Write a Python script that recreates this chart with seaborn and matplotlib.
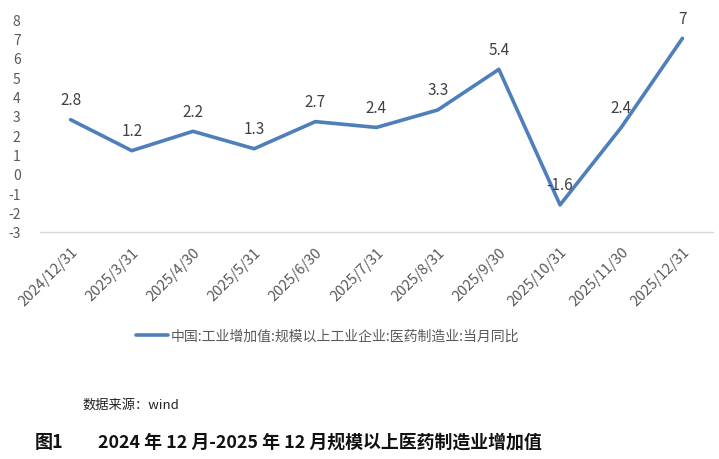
import numpy as np
import pandas as pd
import matplotlib
matplotlib.use('Agg')
import matplotlib.pyplot as plt
import seaborn as sns

dates = ['2024/12/31', '2025/3/31', '2025/4/30', '2025/5/31', '2025/6/30', '2025/7/31',
         '2025/8/31', '2025/9/30', '2025/10/31', '2025/11/30', '2025/12/31']
values = [2.8, 1.2, 2.2, 1.3, 2.7, 2.4, 3.3, 5.4, -1.6, 2.4, 7]
value_labels = ['2.8', '1.2', '2.2', '1.3', '2.7', '2.4', '3.3', '5.4', '-1.6', '2.4', '7']
series_name = '中国:工业增加值:规模以上工业企业:医药制造业:当月同比'
source_text = '数据来源：wind'
caption_fig = '图1'
caption_text = '2024 年 12 月-2025 年 12 月规模以上医药制造业增加值'

sns.set_theme(style='white')
plt.rcParams['font.family'] = ['Noto Sans CJK SC', 'DejaVu Sans']
plt.rcParams['axes.unicode_minus'] = False

df = pd.DataFrame({'date': dates, 'value': values})
df['pos'] = np.arange(len(df))

fig = plt.figure(figsize=(7.19, 4.60), dpi=100)
ax = fig.add_axes([40/719, 1 - 233/460, 673/719, 213/460])

line_color = '#4e7fbb'
sns.lineplot(data=df, x='pos', y='value', ax=ax, color=line_color, linewidth=2.6,
             label=series_name, legend=False)

# labels sit just above each point, like the Excel default
for i, (v, t) in enumerate(zip(values, value_labels)):
    ax.annotate(t, (i, v), xytext=(0, 14.5), textcoords='offset points',
                ha='center', va='center', fontsize=11, color='#404040')

ax.set_xlim(-0.5, len(dates) - 0.5)
ax.set_ylim(-3, 8)
ax.set_yticks(range(-3, 9))
ax.set_yticklabels([str(v) for v in range(-3, 9)], fontsize=10, color='#595959')
ax.set_xticks(df['pos'])
ax.set_xticklabels(dates, rotation=45, ha='right', rotation_mode='anchor',
                   fontsize=10.5, color='#595959')
ax.set_xticks(np.arange(-0.5, len(dates)), minor=True)
ax.tick_params(axis='x', which='major', length=0, pad=9)
ax.tick_params(axis='x', which='minor', length=4, color='#d9d9d9', width=1, direction='out')
ax.tick_params(axis='y', length=0, pad=14)
for s in ['top', 'right', 'left']:
    ax.spines[s].set_visible(False)
ax.spines['bottom'].set_color('#d9d9d9')
ax.spines['bottom'].set_linewidth(1)
ax.set_xlabel('')
ax.set_ylabel('')
ax.grid(False)

handles, labels = ax.get_legend_handles_labels()
leg = fig.legend(handles, labels, loc='center', bbox_to_anchor=(328/719, 1 - 337/460),
                 frameon=False, fontsize=10, handlelength=2.3, handletextpad=0.2)
for txt in leg.get_texts():
    txt.set_color('#595959')

fig.text(82/719, 1 - 405/460, source_text, fontsize=9.5, color='#222222',
         ha='left', va='center')
fig.text(35/719, 1 - 443/460, caption_fig, fontsize=13, fontweight='bold',
         color='#111111', ha='left', va='center')
fig.text(98/719, 1 - 443/460, caption_text, fontsize=12.9, fontweight='bold',
         color='#111111', ha='left', va='center')

fig.savefig('out.png', dpi=100)
